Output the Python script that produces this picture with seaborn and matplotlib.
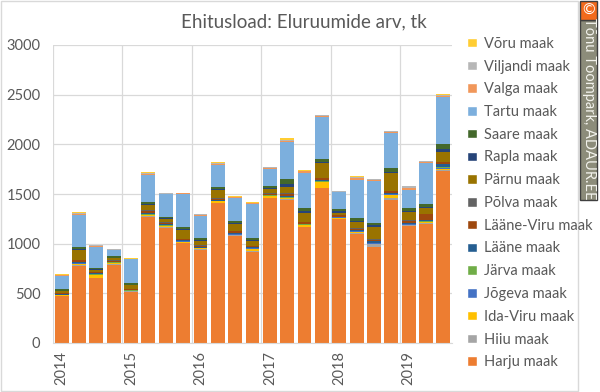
import numpy as np
import seaborn as sns
import matplotlib
matplotlib.use('Agg')
import matplotlib.pyplot as plt
from matplotlib.patches import Patch, Rectangle

# Quarterly building permits (dwellings), 2014Q1 .. 2019Q3
quarters = ["2014Q1", "2014Q2", "2014Q3", "2014Q4",
            "2015Q1", "2015Q2", "2015Q3", "2015Q4",
            "2016Q1", "2016Q2", "2016Q3", "2016Q4",
            "2017Q1", "2017Q2", "2017Q3", "2017Q4",
            "2018Q1", "2018Q2", "2018Q3", "2018Q4",
            "2019Q1", "2019Q2", "2019Q3"]

harju = [470, 780, 650, 790, 510, 1270, 1160, 1005, 935, 1405, 1075, 920,
         1455, 1440, 1165, 1560, 1245, 1100, 965, 1440, 1180, 1200, 1730]
hiiu = [5, 5, 5, 10, 10, 5, 10, 3, 15, 5, 12, 10, 5, 5, 5, 5, 8, 5, 30, 15, 5, 5, 8]
ida_viru = [5, 15, 27, 3, 3, 12, 8, 12, 5, 15, 5, 20, 15, 10, 15, 55, 8, 12, 5, 35, 5, 10, 15]
jogeva = [3, 3, 5, 3, 3, 5, 3, 3, 3, 3, 3, 3, 5, 8, 5, 5, 3, 8, 5, 5, 5, 5, 5]
jarva = [3, 5, 5, 5, 3, 5, 5, 3, 3, 5, 3, 5, 5, 8, 5, 5, 3, 5, 5, 5, 5, 5, 10]
laane = [5, 8, 10, 5, 5, 10, 8, 12, 5, 8, 8, 8, 8, 12, 8, 15, 5, 8, 15, 8, 10, 10, 30]
laane_viru = [10, 15, 10, 10, 5, 20, 12, 5, 12, 12, 20, 8, 10, 20, 15, 15, 15, 12, 12, 20, 20, 60, 20]
polva = [5, 8, 5, 5, 3, 8, 8, 3, 5, 8, 5, 5, 5, 8, 5, 5, 5, 5, 5, 5, 5, 8, 5]
parnu = [15, 100, 20, 20, 40, 50, 35, 90, 40, 75, 65, 45, 45, 60, 90, 145, 20, 65, 130, 175, 85, 55, 100]
rapla = [5, 12, 10, 5, 5, 15, 10, 10, 10, 12, 15, 12, 12, 30, 12, 10, 15, 10, 12, 15, 10, 15, 30]
saare = [15, 20, 10, 15, 15, 15, 12, 25, 20, 25, 20, 25, 20, 50, 35, 35, 20, 30, 25, 40, 25, 30, 55]
tartu = [135, 320, 210, 65, 240, 280, 225, 330, 225, 220, 225, 340,
         170, 370, 355, 420, 170, 385, 420, 350, 190, 405, 470]
valga = [5, 10, 8, 5, 5, 10, 8, 5, 10, 12, 10, 8, 8, 15, 12, 10, 8, 15, 12, 12, 20, 12, 12]
viljandi = [5, 10, 8, 3, 3, 5, 5, 3, 8, 10, 8, 5, 5, 12, 8, 8, 5, 8, 8, 5, 12, 8, 10]
voru = [5, 8, 7, 3, 5, 10, 5, 5, 5, 10, 8, 5, 5, 12, 8, 7, 3, 10, 5, 5, 5, 5, 8]

counties = ["Harju maak", "Hiiu maak", "Ida-Viru maak", "Jõgeva maak", "Järva maak",
            "Lääne maak", "Lääne-Viru maak", "Põlva maak", "Pärnu maak", "Rapla maak",
            "Saare maak", "Tartu maak", "Valga maak", "Viljandi maak", "Võru maak"]
series = [harju, hiiu, ida_viru, jogeva, jarva, laane, laane_viru, polva,
          parnu, rapla, saare, tartu, valga, viljandi, voru]
colors = ["#ED7D31", "#A5A5A5", "#FFC000", "#4472C4", "#70AD47",
          "#255E91", "#9E480E", "#636363", "#997300", "#264478",
          "#43682B", "#7CAFDD", "#F1975A", "#B7B7B7", "#FFCD33"]

text_color = "#595959"
grid_color = "#D9D9D9"

sns.set_style("white")
plt.rcParams['font.family'] = ['Lato', 'DejaVu Sans']

fig = plt.figure(figsize=(6, 3.92), dpi=100)
ax = fig.add_axes([53 / 600, 1 - 343 / 392, (452 - 53) / 600, (343 - 45) / 392])

# Stack the counties one on top of the other.
bottom = np.zeros(len(quarters))
for name, values, color in zip(counties, series, colors):
    sns.barplot(x=quarters, y=values, bottom=bottom, color=color,
                saturation=1, width=0.8, errorbar=None, linewidth=0, ax=ax)
    bottom = bottom + np.array(values)

ax.set_xlim(-0.5, len(quarters) - 0.5)
ax.set_ylim(0, 3000)
ax.set_yticks(range(0, 3001, 500))

year_pos = [i for i, q in enumerate(quarters) if q.endswith("Q1")]
ax.set_xticks(year_pos)
ax.set_xticklabels([quarters[i][:4] for i in year_pos], rotation=90)
ax.set_xticks([p - 0.5 for p in year_pos], minor=True)

ax.grid(axis='y', color=grid_color, lw=0.9)
ax.grid(axis='x', which='minor', color=grid_color, lw=0.9)
ax.grid(axis='x', which='major', visible=False)
ax.set_axisbelow(True)
for side in ['left', 'right', 'top']:
    ax.spines[side].set_visible(False)
ax.spines['bottom'].set_color(grid_color)

ax.tick_params(axis='y', length=0, pad=9, labelsize=10.5, labelcolor=text_color)
ax.tick_params(axis='x', which='major', length=0, pad=6, labelsize=10.5, labelcolor=text_color)
ax.tick_params(axis='x', which='minor', length=4, color=grid_color)
ax.set_xlabel('')
ax.set_ylabel('')

fig.text(0.507, 1 - 22 / 392, 'Ehitusload: Eluruumide arv, tk', ha='center', va='center',
         fontsize=13.5, color=text_color)

handles = [Patch(facecolor=c) for c in colors][::-1]
fig.legend(handles, counties[::-1], loc='center left',
           bbox_to_anchor=(454 / 600, 1 - 203 / 392), frameon=False,
           fontsize=10.5, handlelength=0.65, handleheight=0.65, handletextpad=0.5,
           labelspacing=0.6, labelcolor=text_color)

# Chart border and copyright strip.
fig.patches.append(Rectangle((0.001, 0.002), 577 / 600, 0.995, transform=fig.transFigure,
                             fill=False, edgecolor=grid_color, lw=1))
fig.patches.append(Rectangle((580 / 600, 1 - 200 / 392), 17 / 600, 180 / 392,
                             transform=fig.transFigure, facecolor='#8C8C7A',
                             edgecolor='#3F3F3F', lw=1))
fig.patches.append(Rectangle((580 / 600, 1 - 20 / 392), 17 / 600, 19 / 392,
                             transform=fig.transFigure, facecolor='#F26A1B',
                             edgecolor='#3F3F3F', lw=1))
fig.text(588.5 / 600, 1 - 10.5 / 392, '©', ha='center', va='center', color='white',
         fontsize=11)
fig.text(588.5 / 600, 1 - 109 / 392, 'Tõnu Toompark, ADAUR.EE', rotation=270,
         ha='center', va='center', color='#F2F2EC', fontsize=10.5)

fig.savefig('out.png', dpi=100)
plt.close()
